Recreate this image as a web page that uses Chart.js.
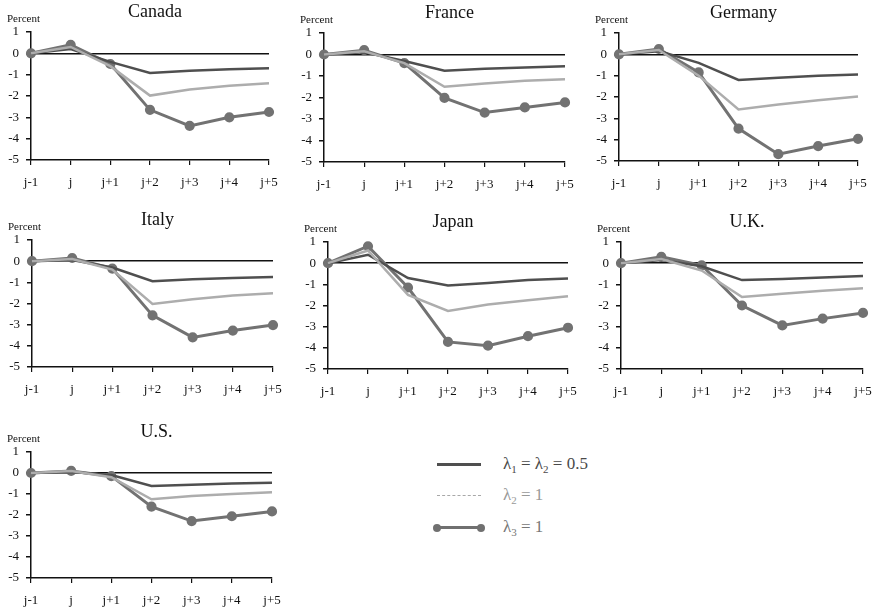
<!DOCTYPE html>
<html>
<head>
<meta charset="utf-8">
<script src="https://cdn.jsdelivr.net/npm/chart.js@4.4.1/dist/chart.umd.min.js"></script>
<style>
  body { margin: 0; background: #fff; width: 875px; height: 609px; overflow: hidden; position: relative; font-family: "Liberation Serif", serif; }
  .panel { position: absolute; }
  .leg { position: absolute; left: 437px; height: 20px; width: 200px; }
  .sw { position: absolute; left: 0; top: 9px; width: 44px; height: 0; }
  .sw.dark { border-top: 3px solid #4f4f4f; top: 8px; }
  .sw.light { border-top: 1.5px dashed #a8a8a8; }
  .sw.dots { border-top: 3px solid #707070; top: 8px; }
  .sw.dots::before, .sw.dots::after { content: ""; position: absolute; top: -5.5px; width: 8px; height: 8px; border-radius: 50%; background: #707070; }
  .sw.dots::before { left: -4px; }
  .sw.dots::after { right: -4px; }
  .lt { position: absolute; left: 66px; top: -1px; font-size: 17px; white-space: nowrap; }
  .lt sub { font-size: 11px; }
</style>
</head>
<body>

<div class="leg" style="top:455px"><span class="sw dark"></span><span class="lt" style="color:#4a4a4a">λ<sub>1</sub> = λ<sub>2</sub> = 0.5</span></div>
<div class="leg" style="top:486px"><span class="sw light"></span><span class="lt" style="color:#999">λ<sub>2</sub> = 1</span></div>
<div class="leg" style="top:518px"><span class="sw dots"></span><span class="lt" style="color:#777">λ<sub>3</sub> = 1</span></div>

<script>
// horizon labels and value range
const periods = ['j-1', 'j', 'j+1', 'j+2', 'j+3', 'j+4', 'j+5'];
const yMin = -5;
const yMax = 1;

// λ1 = λ2 = 0.5 / λ2 = 1 / λ3 = 1, in percent
const canadaHalf  = [0, 0.2, -0.4, -0.92, -0.82, -0.75, -0.7];
const canadaTwo   = [0, 0.3, -0.6, -1.98, -1.7, -1.52, -1.4];
const canadaThree = [0, 0.4, -0.5, -2.65, -3.4, -3.0, -2.75];

const franceHalf  = [0, 0.1, -0.3, -0.75, -0.66, -0.6, -0.55];
const franceTwo   = [0, 0.15, -0.4, -1.5, -1.35, -1.22, -1.15];
const franceThree = [0, 0.2, -0.4, -2.02, -2.7, -2.46, -2.23];

const germanyHalf  = [0, 0.15, -0.4, -1.2, -1.1, -1.0, -0.95];
const germanyTwo   = [0, 0.2, -1.0, -2.58, -2.35, -2.15, -1.98];
const germanyThree = [0, 0.25, -0.85, -3.48, -4.68, -4.3, -3.96];

const italyHalf  = [0, 0.05, -0.3, -0.95, -0.86, -0.8, -0.75];
const italyTwo   = [0, 0.1, -0.4, -2.02, -1.8, -1.62, -1.52];
const italyThree = [0, 0.15, -0.35, -2.56, -3.6, -3.28, -3.02];

const japanHalf  = [0, 0.4, -0.7, -1.05, -0.94, -0.8, -0.72];
const japanTwo   = [0, 0.6, -1.5, -2.26, -1.95, -1.75, -1.56];
const japanThree = [0, 0.8, -1.15, -3.72, -3.9, -3.45, -3.05];

const ukHalf  = [0, 0.15, -0.15, -0.8, -0.75, -0.68, -0.61];
const ukTwo   = [0, 0.2, -0.35, -1.6, -1.45, -1.3, -1.18];
const ukThree = [0, 0.3, -0.1, -2.0, -2.94, -2.62, -2.35];

const usHalf  = [0, 0.05, -0.1, -0.62, -0.56, -0.5, -0.47];
const usTwo   = [0, 0.1, -0.2, -1.25, -1.1, -1.0, -0.92];
const usThree = [0, 0.1, -0.15, -1.6, -2.29, -2.06, -1.83];

const INK = '#111';
const FONT = '"Liberation Serif", serif';

// country name + "Percent" over each panel
const panelText = {
  id: 'panelText',
  afterDraw(chart, args, opts) {
    const { ctx, chartArea } = chart;
    ctx.save();
    ctx.fillStyle = INK;
    ctx.textBaseline = 'middle';
    ctx.textAlign = 'center';
    ctx.font = '18px ' + FONT;
    ctx.fillText(opts.name, (chartArea.left + chartArea.right) / 2 + 5, chartArea.top - 20);
    ctx.textAlign = 'left';
    ctx.font = '11px ' + FONT;
    ctx.fillText('Percent', chartArea.left - 24, chartArea.top - 13);
    ctx.restore();
  }
};

function drawPanel(name, area, half, two, three) {
  const [L, T, R, B] = area;
  const w = R - L + 31 + 24;
  const h = B - T + 32 + 30;
  const div = document.createElement('div');
  div.className = 'panel';
  div.style.left = (L - 31) + 'px';
  div.style.top = (T - 32) + 'px';
  const canvas = document.createElement('canvas');
  canvas.width = w;
  canvas.height = h;
  canvas.style.width = w + 'px';
  canvas.style.height = h + 'px';
  div.appendChild(canvas);
  document.body.appendChild(div);

  new Chart(canvas, {
    type: 'line',
    data: {
      labels: periods,
      datasets: [
        { data: two, borderColor: '#adadad', borderWidth: 2.5, pointRadius: 0, clip: false },
        { data: half, borderColor: '#4f4f4f', borderWidth: 2.5, pointRadius: 0, clip: false },
        { data: three, borderColor: '#727272', borderWidth: 3, pointRadius: 3.6, pointBackgroundColor: '#727272', pointBorderColor: '#727272', clip: false }
      ]
    },
    options: {
      responsive: false,
      animation: false,
      layout: { padding: { top: 32, right: 24, bottom: 0, left: 0 } },
      plugins: {
        legend: { display: false },
        tooltip: { enabled: false },
        panelText: { name }
      },
      elements: { line: { tension: 0 } },
      scales: {
        x: {
          offset: false,
          afterFit: s => { s.height = 30; },
          grid: { drawOnChartArea: false, color: INK, tickColor: INK, tickLength: 5, lineWidth: 1.2 },
          border: { color: INK, width: 1.5 },
          ticks: { color: INK, font: { family: FONT, size: 13 }, padding: 10, maxRotation: 0, autoSkip: false }
        },
        y: {
          min: yMin,
          max: yMax,
          afterFit: s => { s.width = 31; },
          grid: {
            color: c => (c.tick && c.tick.value === 0 ? INK : 'rgba(0,0,0,0)'),
            tickColor: INK,
            tickLength: 5,
            lineWidth: 1.5
          },
          border: { color: INK, width: 1.5 },
          ticks: { stepSize: 1, color: INK, font: { family: FONT, size: 13 }, padding: 7 }
        }
      }
    },
    plugins: [panelText]
  });
}

drawPanel('Canada',  [31, 32, 269, 160],  canadaHalf, canadaTwo, canadaThree);
drawPanel('France',  [324, 33, 565, 162], franceHalf, franceTwo, franceThree);
drawPanel('Germany', [619, 33, 858, 161], germanyHalf, germanyTwo, germanyThree);
drawPanel('Italy',   [32, 240, 273, 367], italyHalf, italyTwo, italyThree);
drawPanel('Japan',   [328, 242, 568, 369], japanHalf, japanTwo, japanThree);
drawPanel('U.K.',    [621, 242, 863, 369], ukHalf, ukTwo, ukThree);
drawPanel('U.S.',    [31, 452, 272, 578], usHalf, usTwo, usThree);
</script>
</body>
</html>
